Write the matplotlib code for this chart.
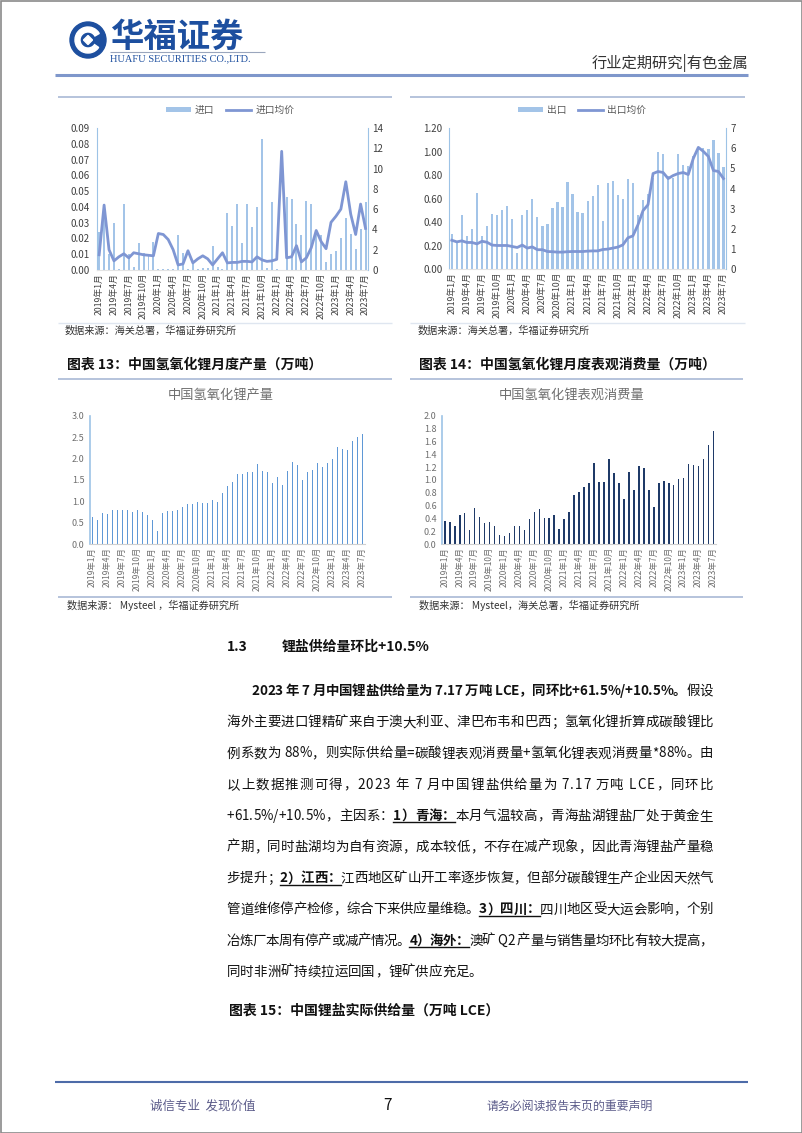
import numpy as np
import matplotlib
matplotlib.use('Agg')
import matplotlib.pyplot as plt
from matplotlib.patches import Circle, Wedge, Polygon, Rectangle
from matplotlib.ticker import FormatStrFormatter
from matplotlib import font_manager as fm
from matplotlib.ft2font import FT2Font
try:
    from matplotlib.ft2font import LoadFlags
    NO_HINT = LoadFlags.NO_HINTING
except ImportError:
    from matplotlib.ft2font import LOAD_NO_HINTING as NO_HINT

plt.rcParams['font.family'] = ['Noto Sans CJK SC', 'DejaVu Sans']
CJK = 'Noto Sans CJK SC'
W, H = 802, 1133

# ---- data (2019-01 .. 2023-07) ----
months = [f'{y}年{m}月' for y in range(2019, 2024) for m in range(1, 13)][:55]

imp_vol = [0.024, 0.041, 0.010, 0.030, 0.0005, 0.042, 0.010, 0.002, 0.017, 0.011, 0.010, 0.018,
           0.0005, 0.0005, 0.0005, 0.0005, 0.022, 0.011, 0.0005, 0.004, 0.0005, 0.001, 0.001, 0.015,
           0.002, 0.0005, 0.036, 0.028, 0.042, 0.017, 0.042, 0.027, 0.040, 0.083, 0.001, 0.043,
           0.0005, 0.0, 0.046, 0.045, 0.029, 0.022, 0.044, 0.042, 0.025, 0.022, 0.005, 0.010,
           0.012, 0.020, 0.033, 0.023, 0.013, 0.026, 0.043]
imp_price = [1.5, 6.4, 2.0, 0.9, 1.3, 1.6, 1.2, 1.7, 1.6, 1.5, 1.45, 1.4,
             3.6, 3.5, 3.0, 2.0, 0.5, 0.6, 1.9, 0.7, 1.1, 1.4, 1.1, 0.5,
             1.1, 1.7, 0.7, 0.75, 0.75, 0.85, 0.85, 0.8, 1.3, 1.0, 0.85, 0.9,
             1.05, 11.7, 1.2, 1.3, 2.4, 0.8, 1.2, 2.2, 3.9, 2.8, 2.1, 4.7,
             5.3, 6.0, 8.7, 5.5, 3.5, 6.5, 4.1]

exp_vol = [0.30, 0.23, 0.46, 0.28, 0.34, 0.65, 0.28, 0.37, 0.47, 0.46, 0.50, 0.54,
           0.43, 0.14, 0.46, 0.50, 0.60, 0.44, 0.37, 0.38, 0.52, 0.57, 0.53, 0.74,
           0.64, 0.49, 0.48, 0.58, 0.62, 0.72, 0.41, 0.73, 0.75, 0.63, 0.60, 0.77,
           0.73, 0.46, 0.59, 0.64, 0.78, 1.00, 0.98, 0.79, 0.78, 0.98, 0.89, 0.88,
           0.96, 1.04, 1.03, 1.02, 1.10, 0.99, 0.87]
exp_price = [1.43, 1.35, 1.40, 1.32, 1.32, 1.25, 1.38, 1.33, 1.19, 1.17, 1.17, 1.17,
             1.12, 1.07, 1.19, 1.04, 1.10, 0.96, 0.96, 0.87, 0.86, 0.84, 0.84, 0.86,
             0.87, 0.87, 0.87, 0.89, 0.90, 0.90, 0.97, 0.99, 1.04, 1.09, 1.20, 1.55,
             1.65, 2.20, 2.90, 3.20, 4.75, 4.85, 4.80, 4.50, 4.65, 4.75, 4.80, 4.70,
             5.50, 6.05, 5.85, 5.60, 4.90, 4.85, 4.50]

lioh_prod = [0.64, 0.57, 0.73, 0.70, 0.81, 0.81, 0.81, 0.79, 0.76, 0.80, 0.76, 0.68,
             0.56, 0.30, 0.73, 0.78, 0.78, 0.80, 0.88, 0.94, 0.93, 0.98, 0.97, 0.97,
             1.03, 0.98, 1.20, 1.36, 1.46, 1.65, 1.64, 1.69, 1.68, 1.87, 1.71, 1.68,
             1.42, 1.58, 1.38, 1.72, 1.91, 1.84, 1.51, 1.69, 1.73, 1.90, 1.80, 1.89,
             2.00, 2.28, 2.22, 2.19, 2.40, 2.50, 2.58]
lioh_cons = [0.37, 0.35, 0.28, 0.45, 0.48, 0.22, 0.56, 0.42, 0.33, 0.35, 0.28, 0.15,
             0.13, 0.17, 0.28, 0.28, 0.22, 0.39, 0.51, 0.55, 0.41, 0.41, 0.45, 0.24,
             0.39, 0.50, 0.76, 0.82, 0.89, 0.96, 1.26, 0.97, 0.97, 1.32, 1.11, 0.96,
             0.71, 1.12, 0.85, 1.21, 1.19, 0.85, 0.58, 0.95, 0.98, 0.96, 0.92, 1.02,
             1.03, 1.25, 1.23, 1.21, 1.32, 1.54, 1.76]

BAR_LIGHT = '#a3c4e8'
LINE_BLUE = '#7f96d3'
AXIS_BLUE = '#9dc3e6'
RULE = '#a9b9d6'

fig = plt.figure(figsize=(W / 100, H / 100), dpi=100, facecolor='white')
page = fig.add_axes([0, 0, 1, 1])
page.set_xlim(0, W)
page.set_ylim(H, 0)
page.set_autoscale_on(False)
page.axis('off')


def box(l, t, r, b):
    return [l / W, 1 - b / H, (r - l) / W, (b - t) / H]


def hline(x0, x1, y, color=RULE, lw=1.2):
    page.plot([x0, x1], [y, y], color=color, lw=lw, solid_capstyle='butt')


# ---- header ----
page.add_patch(Rectangle((0.5, 0.5), W - 1, H - 1, fill=False, ec='#8a8a8a', lw=1.2))
cx, cy = 88, 40
page.add_patch(Circle((cx, cy), 18, color='#1d4f9f'))
page.add_patch(Wedge((cx, cy), 13, 35, 330, width=5, color='white'))
page.add_patch(Polygon([(cx - 4.5, cy), (cx, cy - 4.5), (cx + 4.5, cy), (cx, cy + 4.5)], color='white'))
page.text(110, 37, '华福证券', fontsize=24, fontweight='bold', color='#1d4f9f', family=CJK,
          ha='left', va='center')
hline(110, 265, 52, color='#9aa6bd', lw=0.8)
page.text(110, 59, 'HUAFU SECURITIES CO.,LTD.', fontsize=7.5, color='#1d4f9f',
          family='Liberation Serif', ha='left', va='center')
page.text(748, 63, '行业定期研究|有色金属', fontsize=11, color='#333333', ha='right', va='center')
hline(55, 748, 75, color='#7f97cb', lw=2.2)

# ---- top charts frames ----
for l, r in [(58, 392), (410, 745)]:
    hline(l, r, 97, color=RULE, lw=1.2)
    hline(l, r, 323, color='#dfe6f0', lw=1.0)
page.text(65, 331, '数据来源：海关总署，华福证券研究所', fontsize=7.3, color='#333333', va='center')
page.text(418, 331, '数据来源：海关总署，华福证券研究所', fontsize=7.3, color='#333333', va='center')

x = np.arange(len(months))
tick_idx = x[::3]


def style_x(ax, color, size):
    ax.set_xlim(-0.5, len(months) - 0.5)
    ax.set_xticks(tick_idx)
    ax.set_xticklabels([months[i] for i in tick_idx], rotation=90, fontsize=size, color=color)
    ax.tick_params(axis='x', length=0, pad=2)


# chart: import
ax1 = fig.add_axes(box(96.7, 128, 368, 270))
ax1.set_facecolor('none')
b1 = ax1.bar(x, imp_vol, width=0.4, color=BAR_LIGHT)
ax1.set_ylim(0, 0.09)
ax1.set_yticks(np.linspace(0, 0.09, 10))
ax1.yaxis.set_major_formatter(FormatStrFormatter('%.2f'))
ax1.tick_params(axis='y', length=0, pad=5, labelsize=7, labelcolor='#404040')
style_x(ax1, '#404040', 6.3)
ax1r = ax1.twinx()
l1, = ax1r.plot(x, imp_price, color=LINE_BLUE, lw=2)
ax1r.set_ylim(0, 14)
ax1r.set_yticks(range(0, 15, 2))
ax1r.tick_params(axis='y', length=0, pad=3, labelsize=7, labelcolor='#404040')
for a in (ax1, ax1r):
    for s in a.spines.values():
        s.set_visible(False)
ax1.spines['left'].set_visible(True)
ax1.spines['left'].set_color(AXIS_BLUE)
ax1.spines['bottom'].set_visible(True)
ax1.spines['bottom'].set_color('#e3e3e3')
ax1r.spines['right'].set_visible(True)
ax1r.spines['right'].set_color(AXIS_BLUE)
fig.legend([b1, l1], ['进口', '进口均价'], loc='center', bbox_to_anchor=(230 / W, 1 - 110 / H),
           ncol=2, frameon=False, fontsize=7, handlelength=2.6, handleheight=0.5,
           columnspacing=1.2, handletextpad=0.4, labelcolor='#595959')

# chart: export
ax2 = fig.add_axes(box(449.3, 128.3, 726, 269))
ax2.set_facecolor('none')
b2 = ax2.bar(x, exp_vol, width=0.45, color=BAR_LIGHT)
ax2.set_ylim(0, 1.2)
ax2.set_yticks(np.linspace(0, 1.2, 7))
ax2.yaxis.set_major_formatter(FormatStrFormatter('%.2f'))
ax2.tick_params(axis='y', length=0, pad=5, labelsize=7, labelcolor='#404040')
style_x(ax2, '#404040', 6.3)
ax2r = ax2.twinx()
l2, = ax2r.plot(x, exp_price, color=LINE_BLUE, lw=2)
ax2r.set_ylim(0, 7)
ax2r.set_yticks(range(0, 8))
ax2r.tick_params(axis='y', length=0, pad=3, labelsize=7, labelcolor='#404040')
for a in (ax2, ax2r):
    for s in a.spines.values():
        s.set_visible(False)
ax2.spines['left'].set_visible(True)
ax2.spines['left'].set_color(AXIS_BLUE)
ax2.spines['bottom'].set_visible(True)
ax2.spines['bottom'].set_color('#e3e3e3')
ax2r.spines['right'].set_visible(True)
ax2r.spines['right'].set_color(AXIS_BLUE)
fig.legend([b2, l2], ['出口', '出口均价'], loc='center', bbox_to_anchor=(582 / W, 1 - 110 / H),
           ncol=2, frameon=False, fontsize=7, handlelength=2.6, handleheight=0.5,
           columnspacing=1.2, handletextpad=0.4, labelcolor='#595959')

# ---- middle charts ----
page.text(67, 365, '图表 13：中国氢氧化锂月度产量（万吨）', fontsize=10, fontweight='bold',
          color='#111111', va='center')
page.text(419, 365, '图表 14：中国氢氧化锂月度表观消费量（万吨）', fontsize=10, fontweight='bold',
          color='#111111', va='center')
hline(58, 392, 379)
hline(410, 743, 379)
page.text(221, 395, '中国氢氧化锂产量', fontsize=9.5, color='#6f6f6f', ha='center', va='center')
page.text(572, 395, '中国氢氧化锂表观消费量', fontsize=9.5, color='#6f6f6f', ha='center', va='center')
hline(58, 392, 597)
hline(410, 743, 597)
page.text(67, 605, '数据来源： Mysteel ，华福证券研究所', fontsize=7.3, color='#333333', va='center')
page.text(419, 605, '数据来源： Mysteel，海关总署，华福证券研究所', fontsize=7.3, color='#333333',
          va='center')


def style_simple(ax, top, step, fmt):
    ax.set_facecolor('none')
    ax.set_ylim(0, top)
    ax.set_yticks(np.arange(0, top + step / 2, step))
    ax.yaxis.set_major_formatter(FormatStrFormatter(fmt))
    ax.tick_params(axis='y', length=0, pad=4, labelsize=6.5, labelcolor='#6f6f6f')
    style_x(ax, '#6f6f6f', 6.0)
    for s in ax.spines.values():
        s.set_visible(False)
    ax.spines['left'].set_visible(True)
    ax.spines['left'].set_color(AXIS_BLUE)
    ax.spines['left'].set_linewidth(1.2)
    ax.spines['bottom'].set_visible(True)
    ax.spines['bottom'].set_color('#d0d0d0')


ax3 = fig.add_axes(box(90, 415.7, 365, 544.3))
ax3.bar(x, lioh_prod, width=0.34, color='#5f98d6')
style_simple(ax3, 3.0, 0.5, '%.1f')

ax4 = fig.add_axes(box(442.3, 415.7, 716, 544.3))
ax4.bar(x, lioh_cons, width=0.32, color='#1f3a68')
style_simple(ax4, 2.0, 0.2, '%.1f')

# ---- body text ----
_fonts = {}


def advance(ch, bold, size):
    if bold not in _fonts:
        path = fm.findfont(fm.FontProperties(family=CJK, weight='bold' if bold else 'normal'))
        _fonts[bold] = FT2Font(path)
    f = _fonts[bold]
    f.set_size(size, 100)
    g = f.load_char(ord(ch), flags=NO_HINT)
    return g.linearHoriAdvance / 65536


BODY = 9.7


def para_line(y, runs, x0, x1=None, size=BODY):
    items = []
    for txt, st in runs:
        for ch in txt:
            items.append((ch, st, advance(ch, 'b' in st, size)))
    gap = 0 if x1 is None else (x1 - x0 - sum(a for _, _, a in items)) / (len(items) - 1)
    xp = x0
    base = y + 5
    k = 0
    for txt, st in runs:
        start = xp
        end = xp
        for ch in txt:
            _, _, a = items[k]
            k += 1
            if ch != ' ':
                page.text(xp, base, ch, fontsize=size, family=CJK,
                          fontweight='bold' if 'b' in st else 'normal',
                          ha='left', va='baseline', color='#111111')
            end = xp + a
            xp += a + gap
        if 'u' in st:
            page.plot([start, end], [base + 2.5, base + 2.5], color='#111111', lw=1.0)


page.text(226.7, 651, '1.3', fontsize=10, fontweight='bold', color='#111111', va='baseline')
page.text(281.7, 651, '锂盐供给量环比+10.5%', fontsize=10, fontweight='bold', color='#111111',
          va='baseline')

L, R = 226.7, 713
lines = [
    ([('2023 年 7 月中国锂盐供给量为 7.17 万吨 LCE，同环比+61.5%/+10.5%。', 'b'), ('假设', 'n')], 251.7, R),
    ([('海外主要进口锂精矿来自于澳大利亚、津巴布韦和巴西；氢氧化锂折算成碳酸锂比', 'n')], L, R),
    ([('例系数为 88%，则实际供给量=碳酸锂表观消费量+氢氧化锂表观消费量*88%。由', 'n')], L, R),
    ([('以上数据推测可得，2023 年 7 月中国锂盐供给量为 7.17 万吨 LCE，同环比', 'n')], L, R),
    ([('+61.5%/+10.5%，主因系：', 'n'), ('1）青海：', 'bu'), ('本月气温较高，青海盐湖锂盐厂处于黄金生', 'n')], L, R),
    ([('产期，同时盐湖均为自有资源，成本较低，不存在减产现象，因此青海锂盐产量稳', 'n')], L, R),
    ([('步提升；', 'n'), ('2）江西：', 'bu'), ('江西地区矿山开工率逐步恢复，但部分碳酸锂生产企业因天然气', 'n')], L, R),
    ([('管道维修停产检修，综合下来供应量维稳。', 'n'), ('3）四川：', 'bu'), ('四川地区受大运会影响，个别', 'n')], L, R),
    ([('冶炼厂本周有停产或减产情况。', 'n'), ('4）海外：', 'bu'), ('澳矿 Q2 产量与销售量均环比有较大提高，', 'n')], L, R),
    ([('同时非洲矿持续拉运回国，锂矿供应充足。', 'n')], L, None),
]
for i, (runs, x0, x1) in enumerate(lines):
    para_line(690 + 31.2 * i, runs, x0, x1)

page.text(229, 1011, '图表 15：中国锂盐实际供给量（万吨 LCE）', fontsize=10, fontweight='bold',
          color='#111111', va='center')

# ---- footer ----
hline(55, 748, 1082, color='#4d6ba8', lw=1.5)
page.text(150, 1106, '诚信专业  发现价值', fontsize=9, color='#5c5c8a', va='center')
page.text(388, 1106, '7', fontsize=11, color='#111111', ha='center', va='center')
page.text(487, 1106, '请务必阅读报告末页的重要声明', fontsize=8.6, color='#5c5c8a', va='center')

fig.savefig('out.png', dpi=100, facecolor='white')
